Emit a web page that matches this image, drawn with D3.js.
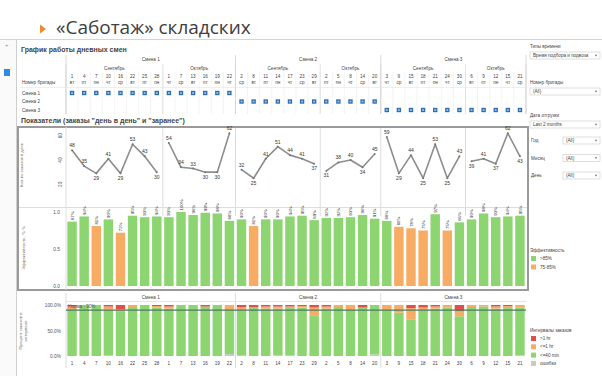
<!DOCTYPE html>
<html>
<head>
<meta charset="utf-8">
<script src="https://cdn.jsdelivr.net/npm/d3@7"></script>
<style>
body{margin:0;background:#fff;}
svg{display:block;font-family:"Liberation Sans",Arial,sans-serif;}
</style>
</head>
<body>
<svg id="chart" width="602" height="376"></svg>
<script>
// --- data ---
const shifts = ["Смена 1", "Смена 2", "Смена 3"];
const shiftSizes = [14, 12, 12];
const monthNames = ["Сентябрь", "Октябрь", "Сентябрь", "Октябрь", "Сентябрь", "Октябрь"];
const monthSizes = [8, 6, 7, 5, 7, 5];
const dates = [1,4,7,10,16,22,25,28, 1,7,13,16,19,22,
               2,8,11,14,17,23,29, 2,5,8,14,20,
               3,9,15,18,21,24,30, 6,9,12,15,21];
const weekdays = ["вт","пт","пн","чт","ср","вт","пт","пн", "чт","ср","вт","пт","пн","чт",
                  "ср","вт","пт","пн","чт","ср","вт", "пт","пн","чт","ср","вт",
                  "чт","ср","вт","пт","пн","чт","ср", "вт","пт","пн","чт","ср"];
const orders = [48,35,29,41,29,53,43,30, 54,34,33,30,30,62,
                32,25,41,51,44,41,37, 31,38,40,34,45,
                59,29,44,25,53,25,43, 39,41,37,62,43];
const efficiency = [87,94,81,90,72,95,93,94, 93,100,96,99,98,88,
                    90,81,90,90,94,95,89, 92,92,93,96,91,
                    88,80,78,75,97,75,86, 90,98,93,94,95];
const errPct  = [0,0,0,1,0,0,0,0, 0,0,0,0,0,4, 2,0,0,1,1,0,0, 0,0,0,0,3, 0,0,0,0,0,0,0, 0,0,0,0,1];
const gt60Pct = [3,0,0,3,8,0,0,2, 3,0,0,3,0,0, 4,4,3,3,3,2,5, 3,0,0,5,0, 0,0,6,5,3,0,12, 0,0,3,2,0];
const le60Pct = [5,0,0,6,4,4,0,3, 4,0,0,0,0,8, 6,0,4,4,3,3,15, 4,4,8,0,0, 8,15,23,5,4,5,10, 4,3,4,4,5];
const normPct = 90;
const effLegend = [">85%", "75-85%"];
const intervalLegend = [">1 hr", "<=1 hr", "<=40 min", "ошибки"];
const filters = [["Номер бригады", "(All)"], ["Дата отгрузки", "Last 2 months"]];
const smallFilters = ["Год", "Месяц", "День"];

const GREEN = "#8cd571", ORANGE = "#f8ab62", RED = "#e0504a", GREY = "#c8c8c8", BLUE = "#2f6fb0";
const TXT = "#444";

const svg = d3.select("#chart");

// column helpers
const n = dates.length;
const shiftOf = [], segOf = [];
shiftSizes.forEach((s, k) => { for (let i = 0; i < s; i++) shiftOf.push(k); });
monthSizes.forEach((s, k) => { for (let i = 0; i < s; i++) segOf.push(k); });
const shiftStart = Array.from(d3.cumsum([0].concat(shiftSizes))).slice(0, 3);
const segStart = Array.from(d3.cumsum([0].concat(monthSizes))).slice(0, 6);

const x = d3.scaleBand().domain(d3.range(n)).range([66, 526]).paddingInner(0.22).paddingOuter(0.11);
const step = x.step();
const cellL = i => x(i) - step * x.paddingInner() / 2;
const mid = i => x(i) + x.bandwidth() / 2;

// --- slide title ---
svg.append("path").attr("d", "M40,24.5L46,29L40,33.5Z").attr("fill", "#ef8a2a");
svg.append("text").attr("x", 56).attr("y", 34).attr("font-size", 19).attr("fill", "#404040")
  .attr("font-family", "'Open Sans',sans-serif").text("«Саботаж» складских");

// toolbar strip & left rail
svg.append("line").attr("x1", 0).attr("x2", 602).attr("y1", 39.5).attr("y2", 39.5).attr("stroke", "#d5d5d5");
svg.append("rect").attr("x", 0).attr("y", 40).attr("width", 16).attr("height", 336).attr("fill", "#fafafa");
svg.append("line").attr("x1", 16.5).attr("x2", 16.5).attr("y1", 40).attr("y2", 376).attr("stroke", "#cfcfcf");
svg.append("rect").attr("x", 4).attr("y", 69).attr("width", 6).attr("height", 7).attr("fill", "#2f8ae6");
svg.append("text").attr("x", 5).attr("y", 47).attr("font-size", 6).attr("fill", "#999").text("+");

// --- schedule table ---
svg.append("text").attr("x", 21).attr("y", 52).attr("font-size", 7).attr("font-weight", "bold")
  .attr("fill", TXT).text("График работы дневных смен");

const tbl = svg.append("g").attr("font-size", 4.6).attr("fill", TXT);
// cell grid
tbl.selectAll("line.col").data(d3.range(n + 1)).join("line")
  .attr("x1", i => cellL(0) + i * step).attr("x2", i => cellL(0) + i * step)
  .attr("y1", 72).attr("y2", 114).attr("stroke", "#ececec").attr("stroke-width", 0.6);
tbl.selectAll("line.seg").data(segStart.concat([n])).join("line")
  .attr("x1", i => cellL(0) + i * step).attr("x2", i => cellL(0) + i * step)
  .attr("y1", 64).attr("y2", 114).attr("stroke", "#dcdcdc").attr("stroke-width", 0.8);
tbl.selectAll("line.shift").data(shiftStart.concat([n])).join("line")
  .attr("x1", i => cellL(0) + i * step).attr("x2", i => cellL(0) + i * step)
  .attr("y1", 55).attr("y2", 114).attr("stroke", "#d2d2d2").attr("stroke-width", 0.8);
tbl.append("line").attr("x1", 20).attr("x2", cellL(0) + n * step).attr("y1", 87.5).attr("y2", 87.5)
  .attr("stroke", "#e4e4e4").attr("stroke-width", 0.6);

tbl.selectAll("text.shift").data(shifts).join("text")
  .attr("x", (d, k) => cellL(shiftStart[k]) + shiftSizes[k] * step / 2).attr("y", 61)
  .attr("text-anchor", "middle").text(d => d);
tbl.selectAll("text.month").data(monthNames).join("text")
  .attr("x", (d, k) => cellL(segStart[k]) + monthSizes[k] * step / 2).attr("y", 69.5)
  .attr("text-anchor", "middle").text(d => d);
tbl.selectAll("text.day").data(dates).join("text")
  .attr("x", (d, i) => mid(i)).attr("y", 77.5).attr("text-anchor", "middle").text(d => d);
tbl.selectAll("text.wd").data(weekdays).join("text")
  .attr("x", (d, i) => mid(i)).attr("y", 84).attr("text-anchor", "middle").text(d => d);
tbl.append("text").attr("x", 22).attr("y", 84).text("Номер бригады");
const rowY = [93, 101.5, 110];
tbl.selectAll("text.row").data(shifts).join("text")
  .attr("x", 22).attr("y", (d, k) => rowY[k] + 1.5).text(d => d);
tbl.selectAll("rect.mark").data(d3.range(n)).join("rect")
  .attr("x", i => mid(i) - 2.2).attr("y", i => rowY[shiftOf[i]] - 2.2)
  .attr("width", 4.4).attr("height", 4.4).attr("fill", BLUE);
tbl.selectAll("rect.markin").data(d3.range(n)).join("rect")
  .attr("x", i => mid(i) - 0.9).attr("y", i => rowY[shiftOf[i]] - 0.9)
  .attr("width", 1.8).attr("height", 1.8).attr("fill", "#9cc3ea");

// --- indicators block ---
svg.append("text").attr("x", 21).attr("y", 123).attr("font-size", 7).attr("font-weight", "bold")
  .attr("fill", TXT).text("Показатели (заказы \"день в день\" и \"заранее\")");

const frameTop = 127, frameBot = 290;
svg.append("rect").attr("x", 18).attr("y", frameTop).attr("width", 510).attr("height", frameBot - frameTop)
  .attr("fill", "none").attr("stroke", "#9a9a9a").attr("stroke-width", 2);
svg.append("line").attr("x1", 66).attr("x2", 66).attr("y1", frameTop).attr("y2", frameBot).attr("stroke", "#dedede");
svg.append("line").attr("x1", 19).attr("x2", 527).attr("y1", 207.5).attr("y2", 207.5).attr("stroke", "#dedede");

// month / shift dividers in the upper charts
svg.selectAll("line.div").data(segStart.slice(1)).join("line")
  .attr("x1", i => cellL(i)).attr("x2", i => cellL(i)).attr("y1", frameTop + 1).attr("y2", 207)
  .attr("stroke", "#dcdcdc");
svg.selectAll("line.div2").data(segStart.slice(1)).join("line")
  .attr("x1", i => cellL(i)).attr("x2", i => cellL(i)).attr("y1", 208).attr("y2", 216)
  .attr("stroke", "#dcdcdc");

// line chart
const yLine = d3.scaleLinear().domain([20, 60]).range([184.3, 135.7]);
const lineAxis = svg.append("g").attr("transform", "translate(62,0)")
  .call(d3.axisLeft(yLine).tickValues([20, 40, 60]).tickSize(0).tickFormat(d3.format("d")));
lineAxis.select(".domain").remove();
lineAxis.selectAll(".tick").attr("transform", null);
lineAxis.selectAll("text").attr("font-size", 4.8).attr("fill", "#555")
  .attr("x", 0).attr("dy", "0").attr("text-anchor", "middle").attr("y", d => yLine(d))
  .attr("transform", d => `rotate(-90,0,${yLine(d)})`);
svg.append("text").attr("transform", "translate(23,165) rotate(-90)").attr("text-anchor", "middle")
  .attr("font-size", 4.3).attr("fill", "#777").text("Кол-во заказов в день");

const line = d3.line().x(i => mid(i)).y(i => yLine(orders[i]));
const segIdx = segStart.map((s, k) => d3.range(s, s + monthSizes[k]));
svg.selectAll("path.ord").data(segIdx).join("path")
  .attr("d", line).attr("fill", "none").attr("stroke", "#8d8d8d").attr("stroke-width", 1.6)
  .attr("stroke-linejoin", "round");
svg.selectAll("circle.ord").data(d3.range(n)).join("circle")
  .attr("cx", mid).attr("cy", i => yLine(orders[i])).attr("r", 1).attr("fill", "#777");
svg.selectAll("text.ord").data(d3.range(n)).join("text")
  .attr("x", mid)
  .attr("y", i => {
    const s = segStart[segOf[i]], e = s + monthSizes[segOf[i]] - 1;
    const prev = i > s ? orders[i - 1] : null, next = i < e ? orders[i + 1] : null;
    const low = (prev === null || orders[i] <= prev) && (next === null || orders[i] <= next);
    return yLine(orders[i]) + (low ? 6.5 : -3);
  })
  .attr("text-anchor", "middle").attr("font-size", 5).attr("fill", "#333").text(i => orders[i]);

// efficiency bars
const yBar = d3.scaleLinear().domain([0, 1]).range([286, 212]);
const barAxis = svg.append("g").attr("transform", "translate(63,0)")
  .call(d3.axisLeft(yBar).tickValues([0, 0.5, 1]).tickSize(0).tickFormat(d3.format(".1f")));
barAxis.select(".domain").remove();
barAxis.selectAll("text").attr("font-size", 4.8).attr("fill", "#555");
svg.append("text").attr("transform", "translate(25,248) rotate(-90)").attr("text-anchor", "middle")
  .attr("font-size", 4.3).attr("fill", "#777").text("Эффективность, % %");
svg.selectAll("rect.eff").data(d3.range(n)).join("rect")
  .attr("x", i => x(i)).attr("width", x.bandwidth())
  .attr("y", i => yBar(efficiency[i] / 100)).attr("height", i => yBar(0) - yBar(efficiency[i] / 100))
  .attr("fill", i => efficiency[i] >= 85 ? GREEN : ORANGE);
svg.selectAll("text.eff").data(d3.range(n)).join("text")
  .attr("transform", i => `translate(${mid(i) + 1.6},${yBar(efficiency[i] / 100) - 1.5}) rotate(-90)`)
  .attr("font-size", 4.3).attr("fill", "#333").text(i => efficiency[i] + "%");

// --- intervals stacked chart ---
const rows = d3.range(n).map(i => ({
  err: errPct[i], gt60: gt60Pct[i], le60: le60Pct[i],
  le40: 100 - errPct[i] - gt60Pct[i] - le60Pct[i]
}));
const stack = d3.stack().keys(["err", "le40", "le60", "gt60"])(rows);
const colorOf = {err: GREY, le40: GREEN, le60: ORANGE, gt60: RED};
const yPct = d3.scaleLinear().domain([0, 100]).range([356, 305]);

svg.selectAll("line.sdiv").data(shiftStart.slice(1)).join("line")
  .attr("x1", i => cellL(i)).attr("x2", i => cellL(i)).attr("y1", 293).attr("y2", 368).attr("stroke", "#dcdcdc");
svg.append("line").attr("x1", 66).attr("x2", 66).attr("y1", 293).attr("y2", 368).attr("stroke", "#dcdcdc");
svg.append("line").attr("x1", 66).attr("x2", 526).attr("y1", 301.5).attr("y2", 301.5).attr("stroke", "#e4e4e4");
svg.selectAll("text.sh").data(shifts).join("text")
  .attr("x", (d, k) => cellL(shiftStart[k]) + shiftSizes[k] * step / 2).attr("y", 299)
  .attr("text-anchor", "middle").attr("font-size", 4.6).attr("fill", TXT).text(d => d);

const pctAxis = svg.append("g").attr("transform", "translate(64,0)")
  .call(d3.axisLeft(yPct).tickValues([0, 50, 100]).tickSize(0).tickFormat(d => d3.format(".1f")(d) + "%"));
pctAxis.select(".domain").remove();
pctAxis.selectAll("text").attr("font-size", 4.8).attr("fill", "#555");
const pt = svg.append("text").attr("transform", "translate(24,331) rotate(-90)").attr("text-anchor", "middle")
  .attr("font-size", 4.3).attr("fill", "#777");
pt.append("tspan").attr("x", 0).attr("dy", -2).text("Процент заказов в");
pt.append("tspan").attr("x", 0).attr("dy", 5).text("интервале");

svg.selectAll("g.layer").data(stack).join("g").attr("fill", d => colorOf[d.key])
  .selectAll("rect").data(d => d.map((v, i) => [v, i])).join("rect")
  .attr("x", d => x(d[1])).attr("width", x.bandwidth())
  .attr("y", d => yPct(d[0][1])).attr("height", d => yPct(d[0][0]) - yPct(d[0][1]));

svg.append("line").attr("x1", 66).attr("x2", 526).attr("y1", yPct(normPct)).attr("y2", yPct(normPct))
  .attr("stroke", "#4b7a60").attr("stroke-width", 1.4);
svg.append("text").attr("x", 68).attr("y", yPct(normPct) - 2.5).attr("font-size", 4.6).attr("fill", "#555")
  .text(`Норма - ${normPct}%`);
svg.selectAll("text.date").data(dates).join("text")
  .attr("x", (d, i) => mid(i)).attr("y", 365).attr("text-anchor", "middle")
  .attr("font-size", 4.6).attr("fill", TXT).text(d => d);

// --- right panel ---
const rp = svg.append("g").attr("font-size", 4.6).attr("fill", TXT);
const dropdown = (x0, y0, w, label) => {
  rp.append("rect").attr("x", x0).attr("y", y0).attr("width", w).attr("height", 7)
    .attr("fill", "#fff").attr("stroke", "#c8c8c8").attr("stroke-width", 0.6);
  rp.append("text").attr("x", x0 + 3).attr("y", y0 + 5).text(label);
  rp.append("path").attr("d", `M${x0 + w - 5},${y0 + 2.8}l2,0l-1,1.6z`).attr("fill", "#555");
};
rp.append("text").attr("x", 530).attr("y", 48).text("Типы времени");
dropdown(530, 52, 70, "Время подбора и подвоза");
filters.forEach((f, k) => {
  rp.append("text").attr("x", 530).attr("y", 84 + k * 33).text(f[0]);
  dropdown(530, 88 + k * 33, 70, f[1]);
});
smallFilters.forEach((f, k) => {
  rp.append("text").attr("x", 531).attr("y", 142 + k * 17.5).text(f);
  dropdown(563, 137 + k * 17.5, 37, "(All)");
});

rp.append("text").attr("x", 530).attr("y", 252).text("Эффективность");
rp.selectAll("rect.el").data(effLegend).join("rect")
  .attr("x", 531).attr("y", (d, k) => 256 + k * 8.5).attr("width", 5).attr("height", 5)
  .attr("fill", (d, k) => [GREEN, ORANGE][k]);
rp.selectAll("text.el").data(effLegend).join("text")
  .attr("x", 540).attr("y", (d, k) => 260 + k * 8.5).text(d => d);

rp.append("text").attr("x", 530).attr("y", 332).text("Интервалы заказов");
rp.selectAll("rect.il").data(intervalLegend).join("rect")
  .attr("x", 531).attr("y", (d, k) => 336 + k * 8.3).attr("width", 5).attr("height", 5)
  .attr("fill", (d, k) => [RED, ORANGE, GREEN, GREY][k]);
rp.selectAll("text.il").data(intervalLegend).join("text")
  .attr("x", 540).attr("y", (d, k) => 340 + k * 8.3).text(d => d);
</script>
</body>
</html>
